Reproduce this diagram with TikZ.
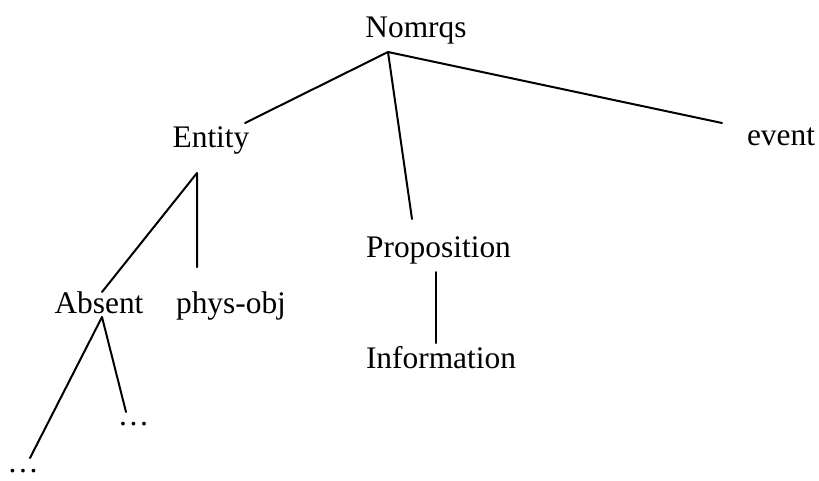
\documentclass[tikz,border=0pt]{standalone}
\usepackage{fontspec}
\setmainfont{Liberation Serif}
\begin{document}
\begin{tikzpicture}[x=1pt,y=-1pt,
  label/.style={anchor=base,inner sep=0pt,font=\fontsize{31.4}{36}\selectfont},
  branch/.style={line width=2pt,line cap=round,line join=round}]
\useasboundingbox (0,0) rectangle (819,480);

% category labels
\node[label] (nomrqs) at (416,37) {Nomrqs};
\node[label] (entity) at (211,147) {Entity};
\node[label] (event) at (781,145) {event};
\node[label] (prop) at (438.5,257) {Proposition};
\node[label] (info) at (441,368) {Information};
\node[label] (absent) at (99,313) {Absent};
\node[label] (physobj) at (231,313) {phys-obj};
\node[label] (moreR) at (133.5,425) {…};
\node[label] (moreL) at (23,472) {…};

% branch end points
\coordinate (nomrqs-foot) at (388,52);
\coordinate (entity-top) at (245,123);
\coordinate (event-top) at (722,123);
\coordinate (prop-top) at (412,219);
\coordinate (entity-foot) at (197,173);
\coordinate (absent-top) at (102,292);
\coordinate (physobj-top) at (197,267);
\coordinate (absent-foot) at (102,317);
\coordinate (moreL-top) at (30,458);
\coordinate (moreR-top) at (126,412);
\coordinate (prop-foot) at (436,272);
\coordinate (info-top) at (436,343);

% tree branches
\draw[branch] (entity-top) -- (nomrqs-foot) -- (event-top);
\draw[branch] (nomrqs-foot) -- (prop-top);
\draw[branch] (absent-top) -- (entity-foot) -- (physobj-top);
\draw[branch] (moreL-top) -- (absent-foot) -- (moreR-top);
\draw[branch] (prop-foot) -- (info-top);
\end{tikzpicture}
\end{document}
